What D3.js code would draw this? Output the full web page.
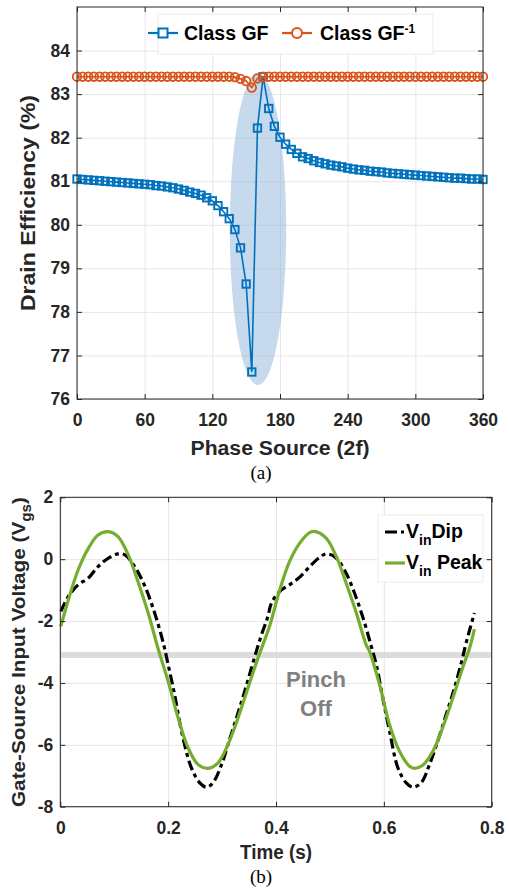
<!DOCTYPE html>
<html>
<head>
<meta charset="utf-8">
<script src="https://cdn.jsdelivr.net/npm/d3@7"></script>
<style>
	body { margin: 0; background: #fff; }
	svg { display: block; }
</style>
</head>
<body>
<svg id="chart" width="509" height="892"></svg>
<script>
// ---------- (a) drain efficiency vs phase source ----------
var phaseSource = [0, 5, 10, 15, 20, 25, 30, 35, 40, 45, 50, 55, 60, 65, 70, 75, 80, 85, 90, 95,
	100, 105, 110, 115, 120, 125, 130, 135, 140, 145, 150, 155, 160, 165, 170, 175, 180, 185, 190, 195,
	200, 205, 210, 215, 220, 225, 230, 235, 240, 245, 250, 255, 260, 265, 270, 275, 280, 285, 290, 295,
	300, 305, 310, 315, 320, 325, 330, 335, 340, 345, 350, 355, 360];
var effClassGF = [81.05, 81.04, 81.03, 81.02, 81.01, 81.00, 80.99, 80.98, 80.97, 80.96, 80.95, 80.94, 80.93, 80.92, 80.90, 80.89, 80.87, 80.85, 80.82, 80.79,
	80.75, 80.72, 80.68, 80.62, 80.55, 80.44, 80.30, 80.14, 79.89, 79.47, 78.64, 76.62, 82.22, 83.40, 82.67, 82.26, 82.01, 81.85, 81.73, 81.64,
	81.56, 81.52, 81.47, 81.43, 81.40, 81.37, 81.35, 81.33, 81.30, 81.28, 81.26, 81.25, 81.23, 81.22, 81.21, 81.19, 81.18, 81.17, 81.16, 81.15,
	81.14, 81.13, 81.12, 81.11, 81.10, 81.09, 81.08, 81.07, 81.07, 81.06, 81.05, 81.05, 81.04];
var effClassGFinv = [83.40, 83.40, 83.40, 83.40, 83.40, 83.40, 83.40, 83.40, 83.40, 83.40, 83.40, 83.40, 83.40, 83.40, 83.40, 83.40, 83.40, 83.40, 83.40, 83.40,
	83.40, 83.40, 83.40, 83.40, 83.40, 83.40, 83.40, 83.40, 83.39, 83.35, 83.30, 83.15, 83.36, 83.40, 83.40, 83.40, 83.40, 83.40, 83.40, 83.40,
	83.40, 83.40, 83.40, 83.40, 83.40, 83.40, 83.40, 83.40, 83.40, 83.40, 83.40, 83.40, 83.40, 83.40, 83.40, 83.40, 83.40, 83.40, 83.40, 83.40,
	83.40, 83.40, 83.40, 83.40, 83.40, 83.40, 83.40, 83.40, 83.40, 83.40, 83.40, 83.40, 83.40];
var xTicksA = [0, 60, 120, 180, 240, 300, 360];
var yTicksA = [76, 77, 78, 79, 80, 81, 82, 83, 84];
// highlight ellipse: centre phase, centre efficiency, half width (deg), half height (%)
var highlightEllipse = [160.5, 79.9, 25, 3.58];

// ---------- (b) gate-source input voltage ----------
var dipTime = [0.001, 0.015, 0.033, 0.052, 0.070, 0.089, 0.107, 0.120, 0.138, 0.157, 0.175, 0.191, 0.200, 0.212, 0.2248, 0.243, 0.2587, 0.271, 0.283, 0.299,
	0.311, 0.3267, 0.342, 0.3606, 0.373, 0.385, 0.3915, 0.407, 0.425, 0.444, 0.4624, 0.481, 0.493, 0.5087, 0.527, 0.5457, 0.5643, 0.5767, 0.586, 0.598,
	0.6106, 0.626, 0.6415, 0.6537, 0.669, 0.6846, 0.700, 0.7156, 0.731, 0.746, 0.7525, 0.768];
var dipVgs = [-1.69, -1.20, -0.83, -0.61, -0.24, 0.03, 0.17, 0.14, -0.24, -0.88, -1.74, -2.71, -3.41, -4.38, -5.56, -6.74, -7.23, -7.37, -7.23, -6.64,
	-5.99, -5.13, -4.27, -3.15, -2.45, -1.85, -1.42, -1.04, -0.83, -0.58, -0.24, 0.06, 0.17, 0.08, -0.35, -1.10, -2.06, -2.82, -3.41, -4.48,
	-5.56, -6.74, -7.23, -7.37, -7.23, -6.64, -5.88, -5.02, -4.16, -3.19, -2.71, -1.74];
var peakTime = [0.001, 0.015, 0.033, 0.052, 0.070, 0.089, 0.107, 0.126, 0.144, 0.163, 0.181, 0.200, 0.2185, 0.237, 0.2556, 0.274, 0.2926, 0.311, 0.3296, 0.348,
	0.3667, 0.388, 0.407, 0.425, 0.444, 0.4624, 0.4735, 0.493, 0.512, 0.530, 0.549, 0.567, 0.5735, 0.592, 0.6106, 0.629, 0.6476, 0.657, 0.672, 0.691,
	0.709, 0.728, 0.746, 0.759, 0.768];
var peakVgs = [-2.17, -1.31, -0.35, 0.35, 0.78, 0.89, 0.73, 0.14, -0.72, -1.74, -2.87, -3.95, -5.13, -6.10, -6.64, -6.76, -6.58, -5.99, -5.13, -4.16,
	-3.19, -2.17, -0.99, -0.08, 0.52, 0.86, 0.89, 0.68, 0.08, -0.77, -1.74, -2.76, -2.98, -4.05, -5.35, -6.21, -6.69, -6.76, -6.66, -6.21,
	-5.45, -4.48, -3.52, -2.87, -2.26];
var pinchOff = -3.1;
var xTicksB = [0, 0.2, 0.4, 0.6, 0.8];
var yTicksB = [-8, -6, -4, -2, 0, 2];


var Chart = (function() {
	"use strict";

	var FONT = "'Liberation Sans', Arial, Helvetica, sans-serif",
		AXIS_COLOR = "#262626",
		GRID_COLOR = "#e6e6e6",
		TICK = 5,
		BLUE = "#0072BD",
		ORANGE = "#D95319",
		GREEN = "#77AC30";

	var svg;

	// light grid under everything
	function drawGrid(g, x, y, xTicks, yTicks) {
		var w = x.range()[1],
			h = y.range()[0];

		g.append("g")
			.attr("transform", "translate(0," + h + ")")
			.call(d3.axisBottom(x).tickValues(xTicks).tickSize(-h).tickFormat(""))
			.call(function(s) { s.select(".domain").remove(); s.selectAll("line").attr("stroke", GRID_COLOR); });
		g.append("g")
			.call(d3.axisLeft(y).tickValues(yTicks).tickSize(-w).tickFormat(""))
			.call(function(s) { s.select(".domain").remove(); s.selectAll("line").attr("stroke", GRID_COLOR); });
	}

	// box + inward ticks on all four sides, like a matlab axes
	function drawTicks(g, x, y, xTicks, yTicks, fmtX, fmtY) {
		var w = x.range()[1],
			h = y.range()[0];
		var axes = [
			g.append("g").attr("transform", "translate(0," + h + ")")
				.call(d3.axisBottom(x).tickValues(xTicks).tickSizeInner(-TICK).tickSizeOuter(0).tickPadding(15).tickFormat(fmtX)),
			g.append("g")
				.call(d3.axisTop(x).tickValues(xTicks).tickSizeInner(-TICK).tickSizeOuter(0).tickFormat("")),
			g.append("g")
				.call(d3.axisLeft(y).tickValues(yTicks).tickSizeInner(-TICK).tickSizeOuter(0).tickPadding(7).tickFormat(fmtY)),
			g.append("g").attr("transform", "translate(" + w + ",0)")
				.call(d3.axisRight(y).tickValues(yTicks).tickSizeInner(-TICK).tickSizeOuter(0).tickFormat(""))
		];
		axes.forEach(function(a) {
			a.attr("font-family", FONT).attr("font-size", 17.5).attr("font-weight", "bold")
				.attr("color", AXIS_COLOR);
			a.select(".domain").remove();
		});
		g.append("rect")
			.attr("width", w).attr("height", h)
			.attr("fill", "none")
			.attr("stroke", AXIS_COLOR)
			.attr("stroke-width", 1);
	}

	function label(parent, txt, px, py, size, len, rotate) {
		var t = parent.append("text")
			.attr("font-family", FONT)
			.attr("font-weight", "bold")
			.attr("font-size", size)
			.attr("fill", AXIS_COLOR)
			.attr("text-anchor", "middle")
			.text(txt);
		if (rotate) t.attr("transform", "translate(" + px + "," + py + ") rotate(-90)");
		else t.attr("x", px).attr("y", py);
		if (len) t.attr("textLength", len).attr("lengthAdjust", "spacingAndGlyphs");
		return t;
	}

	function caption(txt, px, py) {
		svg.append("text")
			.attr("x", px).attr("y", py)
			.attr("font-family", "'Liberation Serif', 'Times New Roman', serif")
			.attr("font-size", 19)
			.attr("text-anchor", "middle")
			.attr("fill", "#000")
			.text(txt);
	}


	//************ (a) ************
	function chartA() {
		var left = 77, top = 7, w = 406, h = 392;
		var g = svg.append("g").attr("transform", "translate(" + left + "," + top + ")");

		var x = d3.scaleLinear().domain([0, 360]).range([0, w]),
			y = d3.scaleLinear().domain([76, 85]).range([h, 0]);

		drawGrid(g, x, y, xTicksA, yTicksA);

		// shaded region round the dip
		g.append("ellipse")
			.attr("cx", x(highlightEllipse[0]))
			.attr("cy", y(highlightEllipse[1]))
			.attr("rx", x(highlightEllipse[0] + highlightEllipse[2]) - x(highlightEllipse[0]))
			.attr("ry", y(highlightEllipse[1] - highlightEllipse[3]) - y(highlightEllipse[1]))
			.attr("fill", "#8fb4d9")
			.attr("fill-opacity", 0.5);

		var gfData = phaseSource.map(function(p, i) { return [p, effClassGF[i]]; }),
			invData = phaseSource.map(function(p, i) { return [p, effClassGFinv[i]]; });

		var line = d3.line()
			.x(function(d) { return x(d[0]); })
			.y(function(d) { return y(d[1]); });

		// class GF
		g.append("path").datum(gfData)
			.attr("d", line).attr("fill", "none")
			.attr("stroke", BLUE).attr("stroke-width", 1.6);
		g.selectAll(".sq").data(gfData).enter()
			.append("rect").attr("class", "sq")
			.attr("x", function(d) { return x(d[0]) - 3.7; })
			.attr("y", function(d) { return y(d[1]) - 3.7; })
			.attr("width", 7.4).attr("height", 7.4)
			.attr("fill", "none").attr("stroke", BLUE).attr("stroke-width", 1.9);

		// class GF^-1
		g.append("path").datum(invData)
			.attr("d", line).attr("fill", "none")
			.attr("stroke", ORANGE).attr("stroke-width", 1.6);
		g.selectAll(".ci").data(invData).enter()
			.append("circle").attr("class", "ci")
			.attr("cx", function(d) { return x(d[0]); })
			.attr("cy", function(d) { return y(d[1]); })
			.attr("r", 4.3)
			.attr("fill", "none").attr("stroke", ORANGE).attr("stroke-width", 1.8);

		drawTicks(g, x, y, xTicksA, yTicksA, d3.format("d"), d3.format("d"));

		// legend
		var lg = svg.append("g");
		lg.append("rect")
			.attr("x", 158).attr("y", 14).attr("width", 275).attr("height", 40)
			.attr("fill", "#fff").attr("stroke", "#ececec");
		lg.append("line").attr("x1", 148).attr("x2", 178).attr("y1", 33).attr("y2", 33)
			.attr("stroke", BLUE).attr("stroke-width", 2.2);
		lg.append("rect").attr("x", 158.5).attr("y", 28.5).attr("width", 9).attr("height", 9)
			.attr("fill", "#fff").attr("stroke", BLUE).attr("stroke-width", 2);
		label(lg, "Class GF", 184, 40, 19.5).attr("text-anchor", "start").attr("fill", "#000");

		lg.append("line").attr("x1", 282).attr("x2", 312).attr("y1", 33).attr("y2", 33)
			.attr("stroke", ORANGE).attr("stroke-width", 2.2);
		lg.append("circle").attr("cx", 297).attr("cy", 33).attr("r", 5)
			.attr("fill", "#fff").attr("stroke", ORANGE).attr("stroke-width", 2);
		var t2 = label(lg, "Class GF", 320, 40, 19.5).attr("text-anchor", "start").attr("fill", "#000");
		t2.append("tspan").attr("font-size", 12).attr("dy", -7).text("-1");

		label(svg, "Phase Source (2f)", 280, 455, 20, 179);
		label(svg, "Drain Efficiency (%)", 35, 203, 20, 216, true);
		caption("(a)", 261, 479);
	}


	//************ (b) ************
	function chartB() {
		var left = 60.3, top = 497.3, w = 431.4, h = 309.4;
		var g = svg.append("g").attr("transform", "translate(" + left + "," + top + ")");

		var x = d3.scaleLinear().domain([0, 0.8]).range([0, w]),
			y = d3.scaleLinear().domain([-8, 2]).range([h, 0]);

		drawGrid(g, x, y, xTicksB, yTicksB);

		// pinch off band
		g.append("line")
			.attr("x1", 0).attr("x2", w)
			.attr("y1", y(pinchOff)).attr("y2", y(pinchOff))
			.attr("stroke", "#dcdcdc").attr("stroke-width", 6);
		g.append("text")
			.attr("font-family", FONT).attr("font-weight", "bold").attr("font-size", 22)
			.attr("fill", "#808080").attr("text-anchor", "middle")
			.selectAll("tspan").data(["Pinch", "Off"]).enter()
			.append("tspan")
			.attr("x", 316 - left)
			.attr("y", function(d, i) { return 687.5 - top + i * 29; })
			.text(function(d) { return d; });

		var line = d3.line()
			.curve(d3.curveCatmullRom.alpha(0.5))
			.x(function(d) { return x(d[0]); })
			.y(function(d) { return y(d[1]); });

		var dipData = dipTime.map(function(t, i) { return [t, dipVgs[i]]; }),
			peakData = peakTime.map(function(t, i) { return [t, peakVgs[i]]; });

		g.append("path").datum(dipData)
			.attr("d", line).attr("fill", "none")
			.attr("stroke", "#000").attr("stroke-width", 3.2)
			.attr("stroke-dasharray", "10,4,4,4");
		g.append("path").datum(peakData)
			.attr("d", line).attr("fill", "none")
			.attr("stroke", GREEN).attr("stroke-width", 3.2);

		drawTicks(g, x, y, xTicksB, yTicksB, function(d) { return String(d); }, function(d) { return String(d); });

		// legend
		var lg = svg.append("g");
		lg.append("rect")
			.attr("x", 378).attr("y", 515).attr("width", 105).attr("height", 67)
			.attr("fill", "#fff").attr("stroke", "#ececec");
		lg.append("line").attr("x1", 385).attr("x2", 405).attr("y1", 532).attr("y2", 532)
			.attr("stroke", "#000").attr("stroke-width", 3.2).attr("stroke-dasharray", "12,4,3,4");
		var d1 = label(lg, "V", 406, 538, 19.5).attr("text-anchor", "start").attr("fill", "#000");
		d1.append("tspan").attr("font-size", 14).attr("dy", 7).text("in");
		d1.append("tspan").attr("dy", -7).text("Dip");

		lg.append("line").attr("x1", 385).attr("x2", 405).attr("y1", 563).attr("y2", 563)
			.attr("stroke", GREEN).attr("stroke-width", 3.2);
		var d2 = label(lg, "V", 406, 569, 19.5).attr("text-anchor", "start").attr("fill", "#000");
		d2.append("tspan").attr("font-size", 14).attr("dy", 7).text("in");
		d2.append("tspan").attr("dy", -7).text(" Peak");

		label(svg, "Time (s)", 276, 859, 19.5, 72);
		var yl = label(svg, "Gate-Source Input Voltage (V", 25, 652, 19, 310, true);
		yl.append("tspan").attr("font-size", 14).attr("dy", 6).text("gs");
		yl.append("tspan").attr("dy", -6).text(")");
		caption("(b)", 261, 883);
	}

	function createChart() {
		svg = d3.select("#chart");
		chartA();
		chartB();
	}

	return {
		createChart: createChart
	};

}());

Chart.createChart();
</script>
</body>
</html>
